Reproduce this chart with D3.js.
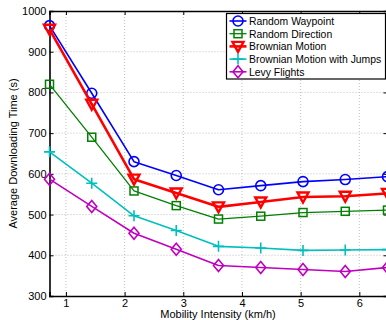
<!DOCTYPE html>
<html>
<head>
<meta charset="utf-8">
<script src="https://cdn.jsdelivr.net/npm/d3@7"></script>
<style>
  html, body { margin: 0; padding: 0; background: #fff; overflow: hidden; }
  svg { display: block; font-family: "Liberation Sans", Arial, Helvetica, sans-serif; }
</style>
</head>
<body>
<svg id="chart" width="386" height="320"></svg>
<script>
// Mobility intensity (km/h) at which each model was simulated
const speeds = [0.72, 1.44, 2.16, 2.88, 3.60, 4.32, 5.04, 5.76, 6.48];

// Average downloading time (s) per mobility model
const randomWaypoint   = [964, 798, 630, 596, 561, 571, 581, 586, 593];
const randomDirection  = [820, 690, 558, 522, 489, 496, 505, 508, 511];
const brownianMotion   = [955, 771, 587, 553, 519, 531, 543, 545, 552];
const brownianJumps    = [654, 577, 497, 461, 422, 418, 412, 413, 414];
const levyFlights      = [587, 520, 454, 415, 375, 370, 365, 360, 370];

const seriesNames = ["Random Waypoint", "Random Direction", "Brownian Motion",
                     "Brownian Motion with Jumps", "Levy Flights"];

const xTicks = [1, 2, 3, 4, 5, 6];
const yTicks = [300, 400, 500, 600, 700, 800, 900, 1000];

const xLabel = "Mobility Intensity (km/h)";
const yLabel = "Average Downloading Time (s)";

const series = [
  { name: seriesNames[0], values: randomWaypoint,  color: "#0000ff", width: 1.6, marker: "circle" },
  { name: seriesNames[1], values: randomDirection, color: "#008000", width: 1.3, marker: "square" },
  { name: seriesNames[2], values: brownianMotion,  color: "#ff0000", width: 2.6, marker: "triangle" },
  { name: seriesNames[3], values: brownianJumps,   color: "#00bfbf", width: 1.6, marker: "plus" },
  { name: seriesNames[4], values: levyFlights,     color: "#bf00bf", width: 1.6, marker: "diamond" }
];

const svg = d3.select("#chart");
const plot = { left: 49.5, top: 11, right: 387.5, bottom: 296 };

const x = d3.scaleLinear().domain([0.72, 6.48]).range([plot.left, plot.right]);
const y = d3.scaleLinear().domain([300, 1000]).range([plot.bottom, plot.top]);

// Dotted grid
const grid = svg.append("g").attr("stroke", "#b0b0b0").attr("stroke-width", 0.8)
  .attr("stroke-dasharray", "1,2");
grid.selectAll(".gx").data(xTicks).join("line")
  .attr("x1", d => x(d)).attr("x2", d => x(d))
  .attr("y1", plot.top).attr("y2", plot.bottom);
grid.selectAll(".gy").data(yTicks.slice(1, -1)).join("line")
  .attr("x1", plot.left).attr("x2", plot.right)
  .attr("y1", d => y(d)).attr("y2", d => y(d));

// Axes with inward ticks
const xAxis = svg.append("g").attr("transform", `translate(0,${plot.bottom})`)
  .call(d3.axisBottom(x).tickValues(xTicks).tickSize(-4).tickPadding(3).tickFormat(d3.format("d")));
const xAxisTop = svg.append("g").attr("transform", `translate(0,${plot.top})`)
  .call(d3.axisTop(x).tickValues(xTicks).tickSize(-4).tickFormat(""));
const yAxis = svg.append("g").attr("transform", `translate(${plot.left},0)`)
  .call(d3.axisLeft(y).tickValues(yTicks).tickSize(-4).tickPadding(3).tickFormat(d3.format("d")));
const yAxisRight = svg.append("g").attr("transform", `translate(${plot.right},0)`)
  .call(d3.axisRight(y).tickValues(yTicks).tickSize(-4).tickFormat(""));

[xAxis, xAxisTop, yAxis, yAxisRight].forEach(a => {
  a.select(".domain").attr("stroke", "#000").attr("stroke-width", 1.6);
  a.selectAll(".tick line").attr("stroke", "#000").attr("stroke-width", 1);
  a.selectAll(".tick text").attr("fill", "#000").attr("font-size", 11)
    .attr("font-family", "Liberation Sans, Arial, sans-serif");
});

// Axis titles
svg.append("text").attr("x", 218).attr("y", 318).attr("text-anchor", "middle")
  .attr("font-size", 11).attr("fill", "#000").text(xLabel);
svg.append("text").attr("transform", `translate(17,${(plot.top + plot.bottom) / 2}) rotate(-90)`)
  .attr("text-anchor", "middle").attr("font-size", 11).attr("fill", "#000").text(yLabel);

// Marker shapes
function drawMarker(g, type, cx, cy, color) {
  if (type === "circle") {
    g.append("circle").attr("cx", cx).attr("cy", cy).attr("r", 5)
      .attr("fill", "none").attr("stroke", color).attr("stroke-width", 1.6);
  } else if (type === "square") {
    g.append("rect").attr("x", cx - 4).attr("y", cy - 4).attr("width", 8).attr("height", 8)
      .attr("fill", "none").attr("stroke", color).attr("stroke-width", 1.5);
  } else if (type === "triangle") {
    g.append("path").attr("d", `M${cx - 5.5},${cy - 4.5}L${cx + 5.5},${cy - 4.5}L${cx},${cy + 5.5}Z`)
      .attr("fill", "none").attr("stroke", color).attr("stroke-width", 2.4).attr("stroke-linejoin", "miter");
  } else if (type === "plus") {
    g.append("path").attr("d", `M${cx - 5.5},${cy}H${cx + 5.5}M${cx},${cy - 5.5}V${cy + 5.5}`)
      .attr("stroke", color).attr("stroke-width", 1.6);
  } else if (type === "diamond") {
    g.append("path").attr("d", `M${cx},${cy - 6}L${cx + 5},${cy}L${cx},${cy + 6}L${cx - 5},${cy}Z`)
      .attr("fill", "none").attr("stroke", color).attr("stroke-width", 1.6);
  }
}

const line = d3.line().x(d => x(d[0])).y(d => y(d[1]));

series.forEach(s => {
  const g = svg.append("g");
  const pts = speeds.map((v, i) => [v, s.values[i]]);
  g.append("path").datum(pts).attr("d", line)
    .attr("fill", "none").attr("stroke", s.color).attr("stroke-width", s.width)
    .attr("stroke-linejoin", "round");
  pts.forEach(p => drawMarker(g, s.marker, x(p[0]), y(p[1]), s.color));
});

// Legend
const legend = svg.append("g");
legend.append("rect").attr("x", 226.5).attr("y", 13.5).attr("width", 159).attr("height", 65.5)
  .attr("fill", "#fff").attr("stroke", "#000").attr("stroke-width", 1.2);
series.forEach((s, i) => {
  const ly = 21 + i * 12.7;
  const lg = legend.append("g");
  lg.append("line").attr("x1", 229.5).attr("x2", 246.5).attr("y1", ly).attr("y2", ly)
    .attr("stroke", s.color).attr("stroke-width", s.width);
  drawMarker(lg, s.marker, 238, ly, s.color);
  lg.append("text").attr("x", 249).attr("y", ly + 4).attr("font-size", 10.4).attr("fill", "#000")
    .text(s.name);
});
</script>
</body>
</html>
